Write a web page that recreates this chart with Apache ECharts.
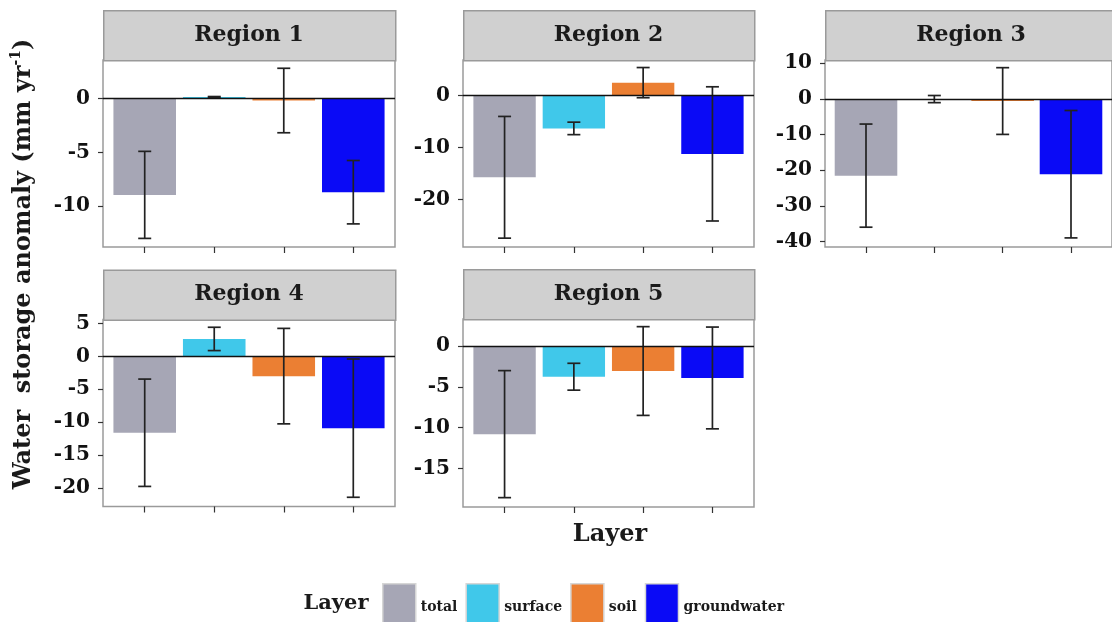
<!DOCTYPE html>
<html>
<head>
<meta charset="utf-8">
<script src="https://cdn.jsdelivr.net/npm/echarts@6/dist/echarts.min.js"></script>
<style>
html,body{margin:0;padding:0;background:#fff;}
#chart{width:1112px;height:622px;}
</style>
</head>
<body>
<div id="chart"></div>
<script>
// ---- data ----
const layers = ['total', 'surface', 'soil', 'groundwater'];
const regions = ['Region 1', 'Region 2', 'Region 3', 'Region 4', 'Region 5'];
const region1Mean = [-8.95, 0.15, -0.17, -8.7];
const region1Err  = [4.05, 0.05, 3.0, 2.95];
const region2Mean = [-15.7, -6.3, 2.5, -11.2];
const region2Err  = [11.7, 1.2, 2.9, 12.9];
const region3Mean = [-21.5, -0.05, -0.6, -21.1];
const region3Err  = [14.45, 1.0, 9.35, 17.85];
const region4Mean = [-11.6, 2.65, -3.0, -10.9];
const region4Err  = [8.15, 1.77, 7.25, 10.5];
const region5Mean = [-10.8, -3.75, -3.05, -3.9];
const region5Err  = [7.8, 1.65, 5.45, 6.25];
const region1Ticks = [0, -5, -10];
const region2Ticks = [0, -10, -20];
const region3Ticks = [10, 0, -10, -20, -30, -40];
const region4Ticks = [5, 0, -5, -10, -15, -20];
const region5Ticks = [0, -5, -10, -15];
const yRanges = [[-13.8, 3.6], [-29.1, 6.85], [-41.5, 10.9], [-22.8, 5.6], [-19.75, 3.34]];

// ---- styles / layout ----
const colors = ['#A6A6B5', '#40C8EA', '#EB7F33', '#0A0AF6'];
const FONT = 'DejaVu Serif';
const panels = [
  {left: 103, top: 60, width: 292, height: 187},
  {left: 463, top: 60, width: 291, height: 187},
  {left: 825, top: 60, width: 292, height: 187},
  {left: 103, top: 319.5, width: 292, height: 187},
  {left: 463, top: 319, width: 291, height: 188}
];
const stripH = 50;
const means = [region1Mean, region2Mean, region3Mean, region4Mean, region5Mean];
const errs = [region1Err, region2Err, region3Err, region4Err, region5Err];
const ticks = [region1Ticks, region2Ticks, region3Ticks, region4Ticks, region5Ticks];

const grid = [], xAxis = [], yAxis = [], series = [], graphic = [];

panels.forEach((p, i) => {
  grid.push({left: p.left, top: p.top, width: p.width, height: p.height,
    show: true, borderColor: '#9a9a9a', borderWidth: 1.5, backgroundColor: '#fff'});
  xAxis.push({type: 'value', gridIndex: i, min: 0.4, max: 4.6, position: 'bottom',
    axisLine: {show: false, onZero: false}, splitLine: {show: false},
    axisLabel: {show: false},
    axisTick: {show: true, customValues: [1, 2, 3, 4], length: 6, lineStyle: {color: '#333', width: 1.2}}});
  yAxis.push({type: 'value', gridIndex: i, min: yRanges[i][0], max: yRanges[i][1], position: 'left',
    axisLine: {show: false, onZero: false}, splitLine: {show: false},
    axisTick: {show: true, customValues: ticks[i], length: 5, lineStyle: {color: '#333', width: 1.2}},
    axisLabel: {customValues: ticks[i], fontFamily: FONT, fontWeight: 'bold', fontSize: 20, color: '#111', margin: 13}});
  const bw = 0.9 * p.width / 4.2;
  layers.forEach((L, j) => {
    const s = {type: 'bar', name: L, xAxisIndex: i, yAxisIndex: i,
      data: [[j + 1, means[i][j]]], barWidth: bw, barGap: '-100%',
      itemStyle: {color: colors[j]}, silent: true};
    if (j === 3) {
      s.markLine = {silent: true, symbol: 'none', z: 5, label: {show: false},
        lineStyle: {color: '#111', width: 1.3, type: 'solid'},
        data: [{yAxis: 0}]};
    }
    series.push(s);
  });
  series.push({type: 'custom', xAxisIndex: i, yAxisIndex: i, z: 4, silent: true,
    data: layers.map((L, j) => [j + 1, means[i][j], errs[i][j]]),
    encode: {x: 0, y: 1},
    renderItem: function (params, api) {
      const x = api.value(0), m = api.value(1), e = api.value(2);
      const t = api.coord([x, m + e]), b = api.coord([x, m - e]);
      const hw = 6.5;
      const st = {stroke: '#222', lineWidth: 1.7};
      return {type: 'group', children: [
        {type: 'line', shape: {x1: t[0], y1: t[1], x2: b[0], y2: b[1]}, style: st},
        {type: 'line', shape: {x1: t[0] - hw, y1: t[1], x2: t[0] + hw, y2: t[1]}, style: st},
        {type: 'line', shape: {x1: b[0] - hw, y1: b[1], x2: b[0] + hw, y2: b[1]}, style: st}
      ]};
    }
  });
  // strip
  graphic.push({type: 'rect', left: p.left, top: p.top - stripH, z: 10,
    shape: {x: 0, y: 0, width: p.width, height: stripH},
    style: {fill: '#d0d0d0', stroke: '#9a9a9a', lineWidth: 1.5}});
  graphic.push({type: 'text', x: p.left + p.width / 2, y: p.top - stripH / 2, z: 11,
    style: {text: regions[i], fill: '#1a1a1a', font: 'bold 22px "' + FONT + '"', align: 'center', verticalAlign: 'middle'}});
});

// axis titles
graphic.push({type: 'text', x: 24, y: 264, rotation: Math.PI / 2, z: 11,
  style: {text: '{a|Water  storage anomaly (mm yr}{s|-1}{a|)}', align: 'center', verticalAlign: 'middle',
    rich: {
      a: {fontFamily: FONT, fontWeight: 'bold', fontSize: 24, fill: '#1a1a1a', lineHeight: 30},
      s: {fontFamily: FONT, fontWeight: 'bold', fontSize: 14, fill: '#1a1a1a', verticalAlign: 'top', lineHeight: 30}
    }}});
graphic.push({type: 'text', x: 610, y: 535, z: 11,
  style: {text: 'Layer', fill: '#1a1a1a', font: 'bold 24px "' + FONT + '"', align: 'center', verticalAlign: 'middle'}});
graphic.push({type: 'text', x: 336, y: 604, z: 11,
  style: {text: 'Layer', fill: '#1a1a1a', font: 'bold 21px "' + FONT + '"', align: 'center', verticalAlign: 'middle'}});

const chart = echarts.init(document.getElementById('chart'), null, {renderer: 'canvas'});
chart.setOption({
  animation: false,
  backgroundColor: '#fff',
  grid, xAxis, yAxis, series, graphic,
  legend: {data: layers, left: 382, top: 583, orient: 'horizontal', padding: 0,
    itemWidth: 33, itemHeight: 40, itemGap: 8, icon: 'rect',
    itemStyle: {borderColor: '#d6d6d6', borderWidth: 1.5},
    formatter: '{t|{name}}',
    textStyle: {fontFamily: FONT, fontWeight: 'bold', fontSize: 14, color: '#1a1a1a',
      rich: {t: {fontFamily: FONT, fontWeight: 'bold', fontSize: 14, color: '#1a1a1a', padding: [8, 0, 0, 0]}}},
    selectedMode: false}
});
</script>
</body>
</html>
